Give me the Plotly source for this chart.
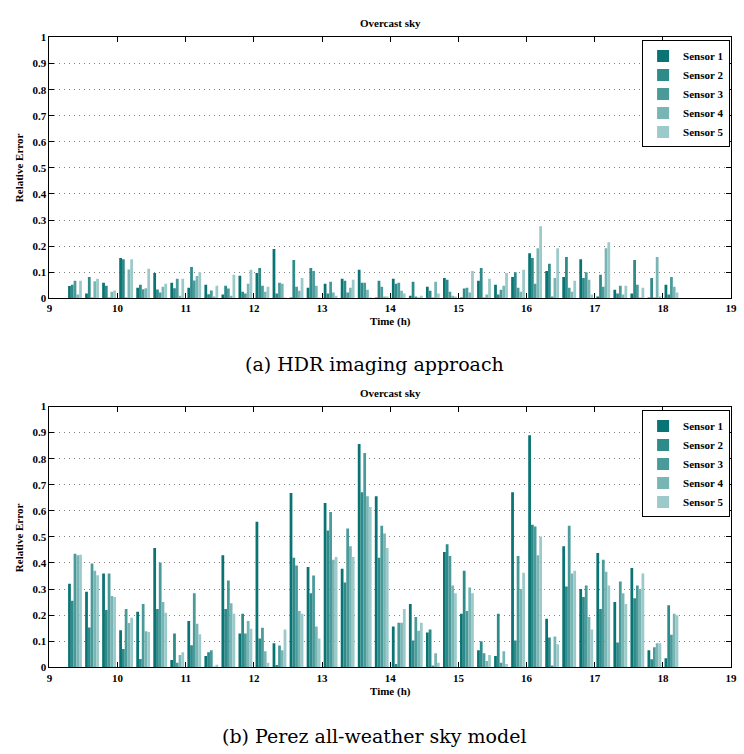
import plotly.graph_objects as go

times = [9.375, 9.625, 9.875, 10.125, 10.375, 10.625, 10.875, 11.125, 11.375,
         11.625, 11.875, 12.125, 12.375, 12.625, 12.875, 13.125, 13.375, 13.625,
         13.875, 14.125, 14.375, 14.625, 14.875, 15.125, 15.375, 15.625, 15.875,
         16.125, 16.375, 16.625, 16.875, 17.125, 17.375, 17.625, 17.875, 18.125]

sensor_names = ["Sensor 1", "Sensor 2", "Sensor 3", "Sensor 4", "Sensor 5"]
colors = ["#0a7373", "#2f8a8a", "#4b9a9a", "#79b5b5", "#9ccaca"]

# (a) HDR imaging approach
hdr_s1 = [0.047, 0.018, 0.060, 0.154, 0.040, 0.097, 0.060, 0.040, 0.052, 0.014, 0.086, 0.097,
          0.189, 0.003, 0.040, 0.056, 0.075, 0.109, 0.003, 0.075, 0.010, 0.044, 0.078, 0.003,
          0.067, 0.052, 0.082, 0.173, 0.105, 0.082, 0.150, 0.006, 0.033, 0.018, 0.002, 0.052]
hdr_s2 = [0.052, 0.082, 0.048, 0.150, 0.052, 0.034, 0.038, 0.120, 0.015, 0.048, 0.025, 0.116,
          0.018, 0.147, 0.116, 0.018, 0.067, 0.060, 0.067, 0.056, 0.063, 0.029, 0.071, 0.037,
          0.116, 0.014, 0.100, 0.154, 0.132, 0.158, 0.078, 0.090, 0.018, 0.147, 0.078, 0.014]
hdr_s3 = [0.067, 0.002, 0.003, 0.002, 0.035, 0.022, 0.075, 0.068, 0.030, 0.037, 0.018, 0.048,
          0.060, 0.044, 0.105, 0.063, 0.022, 0.060, 0.044, 0.060, 0.006, 0.003, 0.025, 0.040,
          0.002, 0.033, 0.040, 0.056, 0.006, 0.040, 0.100, 0.044, 0.048, 0.052, 0.002, 0.082]
hdr_s4 = [0.014, 0.065, 0.025, 0.110, 0.038, 0.044, 0.010, 0.085, 0.006, 0.010, 0.056, 0.025,
          0.056, 0.029, 0.048, 0.022, 0.040, 0.033, 0.006, 0.029, 0.002, 0.063, 0.010, 0.022,
          0.014, 0.048, 0.025, 0.192, 0.078, 0.025, 0.071, 0.192, 0.014, 0.002, 0.158, 0.044]
hdr_s5 = [0.067, 0.075, 0.030, 0.150, 0.113, 0.056, 0.075, 0.100, 0.048, 0.090, 0.109, 0.044,
          0.003, 0.078, 0.003, 0.010, 0.071, 0.002, 0.006, 0.018, 0.010, 0.018, 0.006, 0.105,
          0.075, 0.097, 0.109, 0.276, 0.192, 0.067, 0.014, 0.215, 0.048, 0.040, 0.006, 0.022]

# (b) Perez all-weather sky model
perez_s1 = [0.320, 0.290, 0.360, 0.142, 0.213, 0.457, 0.028, 0.178, 0.043, 0.430, 0.130, 0.558,
            0.092, 0.668, 0.385, 0.630, 0.378, 0.856, 0.656, 0.156, 0.243, 0.133, 0.442, 0.205,
            0.065, 0.043, 0.671, 0.890, 0.186, 0.464, 0.300, 0.438, 0.250, 0.381, 0.065, 0.035]
perez_s2 = [0.255, 0.153, 0.220, 0.070, 0.032, 0.224, 0.130, 0.085, 0.058, 0.224, 0.205, 0.110,
            0.009, 0.420, 0.284, 0.525, 0.325, 0.671, 0.420, 0.013, 0.103, 0.145, 0.472, 0.370,
            0.100, 0.205, 0.103, 0.547, 0.114, 0.310, 0.270, 0.224, 0.095, 0.265, 0.031, 0.238]
perez_s3 = [0.435, 0.398, 0.360, 0.224, 0.243, 0.402, 0.017, 0.284, 0.065, 0.333, 0.130, 0.152,
            0.084, 0.390, 0.352, 0.596, 0.532, 0.822, 0.543, 0.171, 0.193, 0.005, 0.427, 0.216,
            0.054, 0.017, 0.427, 0.540, 0.005, 0.543, 0.314, 0.412, 0.329, 0.314, 0.077, 0.125]
perez_s4 = [0.430, 0.370, 0.273, 0.170, 0.138, 0.250, 0.047, 0.167, 0.002, 0.246, 0.178, 0.062,
            0.065, 0.216, 0.156, 0.412, 0.464, 0.656, 0.513, 0.171, 0.140, 0.054, 0.314, 0.306,
            0.024, 0.062, 0.300, 0.430, 0.118, 0.360, 0.193, 0.366, 0.284, 0.300, 0.092, 0.205]
perez_s5 = [0.432, 0.353, 0.270, 0.190, 0.135, 0.209, 0.058, 0.127, 0.010, 0.205, 0.148, 0.017,
            0.145, 0.205, 0.110, 0.423, 0.423, 0.615, 0.457, 0.224, 0.171, 0.017, 0.284, 0.284,
            0.047, 0.013, 0.363, 0.502, 0.088, 0.370, 0.145, 0.314, 0.243, 0.360, 0.092, 0.200]

y_ticks = [0, 0.1, 0.2, 0.3, 0.4, 0.5, 0.6, 0.7, 0.8, 0.9, 1]
y_ticklabels = ["<b>0</b>", "<b>0.1</b>", "<b>0.2</b>", "<b>0.3</b>", "<b>0.4</b>", "<b>0.5</b>",
                "<b>0.6</b>", "<b>0.7</b>", "<b>0.8</b>", "<b>0.9</b>", "<b>1</b>"]
x_ticks = [9, 10, 11, 12, 13, 14, 15, 16, 17, 18, 19]
x_ticklabels = ["<b>%d</b>" % t for t in x_ticks]

W, H = 744, 754
fig = go.Figure()

panels = [
    ("x", "y", "legend", [hdr_s1, hdr_s2, hdr_s3, hdr_s4, hdr_s5]),
    ("x2", "y2", "legend2", [perez_s1, perez_s2, perez_s3, perez_s4, perez_s5]),
]
for xa, ya, lg, series in panels:
    for name, col, vals in zip(sensor_names, colors, series):
        fig.add_trace(go.Bar(x=times, y=vals, name="<b>%s</b>" % name, marker_color=col,
                             marker_line_width=0, xaxis=xa, yaxis=ya, legend=lg))

serif = "Liberation Serif"
tickfont = dict(family=serif, size=11, color="black")

def px_x(p):
    return p / W

def px_y(p):
    return 1 - p / H

xdom = [px_x(47), px_x(737)]
ydom_top = [px_y(297), px_y(32)]
ydom_bot = [px_y(672), px_y(407)]

axis_common = dict(showline=True, linecolor="black", linewidth=1, mirror="ticks",
                   ticks="inside", ticklen=5, tickcolor="black", tickfont=tickfont,
                   zeroline=False)
ygrid = dict(showgrid=True, gridcolor="#808080", griddash="1px,4px", gridwidth=1)

legend_common = dict(xanchor="right", yanchor="top", bgcolor="white",
                     bordercolor="black", borderwidth=1,
                     font=dict(family=serif, size=11, color="black"),
                     tracegroupgap=0, itemwidth=30)

fig.update_layout(
    width=W, height=H,
    margin=dict(l=0, r=0, t=0, b=0),
    paper_bgcolor="white", plot_bgcolor="white",
    barmode="group", bargap=0.19, bargroupgap=0,
    xaxis=dict(domain=xdom, anchor="y", range=[9, 19], tickvals=x_ticks,
               ticktext=x_ticklabels, showgrid=False, **axis_common),
    yaxis=dict(domain=ydom_top, anchor="x", range=[0, 1], tickvals=y_ticks,
               ticktext=y_ticklabels, **ygrid, **axis_common),
    xaxis2=dict(domain=xdom, anchor="y2", range=[9, 19], tickvals=x_ticks,
                ticktext=x_ticklabels, showgrid=False, **axis_common),
    yaxis2=dict(domain=ydom_bot, anchor="x2", range=[0, 1], tickvals=y_ticks,
                ticktext=y_ticklabels, **ygrid, **axis_common),
    legend=dict(x=px_x(736), y=px_y(35), **legend_common),
    legend2=dict(x=px_x(736), y=px_y(411), **legend_common),
)

bold_font = dict(family=serif, size=11, color="black")
ann = []
for ttl_y, ylab_y, xlab_y, cap_y, cap in [
    (17, 164, 321, 364, "(a) HDR imaging approach"),
    (393, 540, 697, 742, "(b) Perez all-weather sky model"),
]:
    ann.append(dict(text="<b>Overcast sky</b>", x=px_x(392), y=px_y(ttl_y), xref="paper",
                    yref="paper", showarrow=False, font=bold_font,
                    xanchor="center", yanchor="middle"))
    ann.append(dict(text="<b>Relative Error</b>", x=px_x(17), y=px_y(ylab_y), xref="paper",
                    yref="paper", showarrow=False, font=bold_font, textangle=-90,
                    xanchor="center", yanchor="middle"))
    ann.append(dict(text="<b>Time (h)</b>", x=px_x(392), y=px_y(xlab_y), xref="paper",
                    yref="paper", showarrow=False, font=bold_font,
                    xanchor="center", yanchor="middle"))
    ann.append(dict(text=cap, x=px_x(376), y=px_y(cap_y), xref="paper",
                    yref="paper", showarrow=False,
                    font=dict(family="DejaVu Serif", size=19, color="black"),
                    xanchor="center", yanchor="middle"))
fig.update_layout(annotations=ann)

post = ("document.body.style.margin='0px';"
        "document.body.style.overflow='hidden';"
        "var gd=document.getElementById('{plot_id}');"
        "gd.style.position='absolute';gd.style.left='0px';gd.style.top='0px';")
fig.write_html("out.html", post_script=post, config={"displayModeBar": False})
